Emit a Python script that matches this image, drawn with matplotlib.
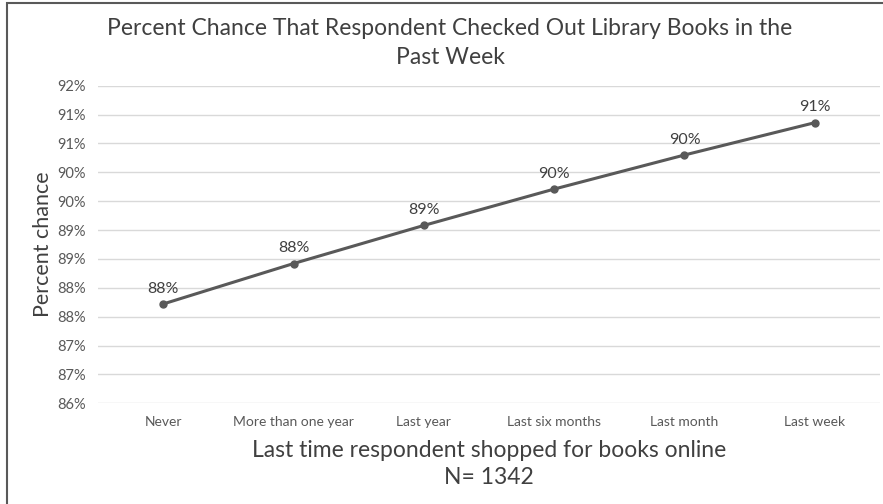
import matplotlib
matplotlib.use("Agg")
import matplotlib.pyplot as plt
from matplotlib.patches import Rectangle

categories = ["Never", "More than one year", "Last year", "Last six months", "Last month", "Last week"]
values = [87.72, 88.42, 89.08, 89.71, 90.30, 90.86]
data_labels = ["88%", "88%", "89%", "90%", "90%", "91%"]
y_ticks = [86.0, 86.5, 87.0, 87.5, 88.0, 88.5, 89.0, 89.5, 90.0, 90.5, 91.0, 91.5]
y_tick_labels = ["86%", "87%", "87%", "88%", "88%", "89%", "89%", "90%", "90%", "91%", "91%", "92%"]

title = "Percent Chance That Respondent Checked Out Library Books in the\nPast Week"
x_title = "Last time respondent shopped for books online"
n_text = "N= 1342"
y_title = "Percent chance"

plt.rcParams['font.family'] = ['Lato', 'DejaVu Sans']

W, H = 883, 504
fig = plt.figure(figsize=(W / 100, H / 100), dpi=100)
ax = fig.add_axes([98 / W, (H - 403.3) / H, (880 - 98) / W, (403.3 - 85.7) / H])

x = list(range(len(categories)))
line_color = "#595959"
ax.plot(x, values, color=line_color, linewidth=2.2, marker="o", markersize=5,
        zorder=3, solid_capstyle="round")
for xi, v, lab in zip(x, values, data_labels):
    ax.annotate(lab, (xi, v), xytext=(0, 6), textcoords="offset points",
                ha="center", va="bottom", fontsize=11.5, color="#404040")

ax.set_xlim(-0.5, len(categories) - 0.5)
ax.set_ylim(86.0, 91.5)
ax.set_yticks(y_ticks)
ax.set_yticklabels(y_tick_labels)
ax.set_xticks(x)
ax.set_xticklabels(categories)
ax.tick_params(axis="y", length=0, pad=9, labelsize=10.5, labelcolor="#595959")
ax.tick_params(axis="x", length=0, pad=9.5, labelsize=10, labelcolor="#595959")
for s in ax.spines.values():
    s.set_visible(False)
ax.grid(axis="y", color="#d9d9d9", linewidth=1.0)
ax.set_axisbelow(True)

ax.set_xlabel(x_title, fontsize=16.5, color="#404040", labelpad=8)
ax.set_ylabel(y_title, fontsize=15.5, color="#404040", labelpad=3)

fig.text(450 / W, 1 - 43 / H, title, ha="center", va="center", fontsize=16.5,
         color="#404040", linespacing=1.45)
fig.text(489 / W, 1 - 478 / H, n_text, ha="center", va="center", fontsize=16.5,
         color="#404040")

fig.patches.append(Rectangle((7 / W, -0.05), 1.0, 1 - 3.3 / H + 0.05,
                             transform=fig.transFigure, fill=False,
                             edgecolor="#595959", linewidth=1.5))

fig.savefig("out.png", dpi=100)
